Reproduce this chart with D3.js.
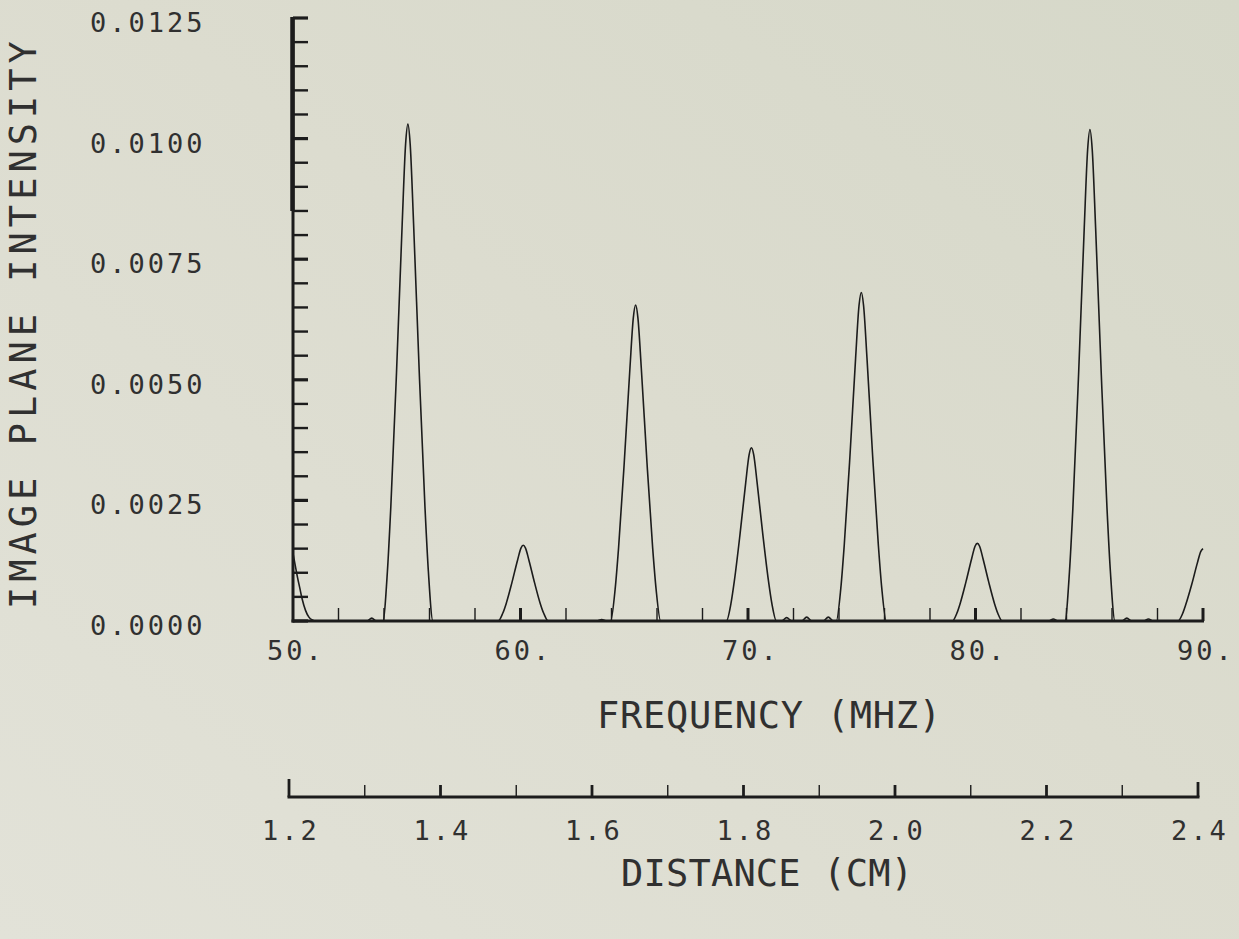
<!DOCTYPE html>
<html>
<head>
<meta charset="utf-8">
<script src="https://cdn.jsdelivr.net/npm/d3@7"></script>
<style>
  html, body { margin: 0; padding: 0; background: #dcdccf; }
  svg { display: block; }
  text { font-family: 'DejaVu Sans Mono', 'Liberation Mono', monospace; fill: #303030; }
</style>
</head>
<body>
<div id="chart"></div>
<script>
// intensity axis
const yTickValues = [0, 0.0025, 0.005, 0.0075, 0.01, 0.0125];
const yTickLabels = ['0.0000', '0.0025', '0.0050', '0.0075', '0.0100', '0.0125'];
// frequency axis
const freqTicks = [50, 60, 70, 80, 90];
const freqTickLabels = ['50.', '60.', '70.', '80.', '90.'];
// distance axis
const distTicks = [1.2, 1.4, 1.6, 1.8, 2.0, 2.2, 2.4];
const distTickLabels = ['1.2', '1.4', '1.6', '1.8', '2.0', '2.2', '2.4'];

// traced curve: [frequency MHz, image plane intensity]
const trace = [
  [50.00, 0.00140], [50.10, 0.00115], [50.20, 0.00090], [50.30, 0.00068], [50.40, 0.00046],
  [50.55, 0.00022], [50.70, 0.00008], [50.85, 0.00002], [51.00, 0], [52.00, 0],
  [53.25, 0], [53.46, 0.00006], [53.67, 0],
  // peak near 55
  [53.95, 0], [54.15, 0.00103], [54.30, 0.00237], [54.55, 0.00515], [54.80, 0.00824],
  [54.95, 0.00989], [55.05, 0.01030], [55.15, 0.00989], [55.30, 0.00824], [55.55, 0.00515],
  [55.80, 0.00237], [55.95, 0.00103], [56.15, 0],
  // peak near 60
  [59.02, 0], [59.22, 0.00016], [59.37, 0.00036], [59.62, 0.00079], [59.87, 0.00126],
  [60.02, 0.00151], [60.12, 0.00157], [60.22, 0.00151], [60.37, 0.00126], [60.62, 0.00079],
  [60.87, 0.00036], [61.02, 0.00016], [61.22, 0],
  [63.35, 0], [63.57, 0.00003], [63.79, 0],
  // peak near 65
  [63.96, 0], [64.16, 0.00066], [64.31, 0.00151], [64.56, 0.00328], [64.81, 0.00524],
  [64.96, 0.00629], [65.06, 0.00655], [65.16, 0.00629], [65.31, 0.00524], [65.56, 0.00328],
  [65.81, 0.00151], [65.96, 0.00066], [66.16, 0],
  // peak near 70
  [69.05, 0], [69.25, 0.00036], [69.40, 0.00083], [69.65, 0.00180], [69.90, 0.00287],
  [70.05, 0.00345], [70.15, 0.00359], [70.25, 0.00345], [70.40, 0.00287], [70.65, 0.00180],
  [70.90, 0.00083], [71.05, 0.00036], [71.25, 0],
  [71.48, 0], [71.70, 0.00007], [71.92, 0], [72.36, 0], [72.58, 0.00008], [72.80, 0],
  [73.31, 0], [73.53, 0.00008], [73.75, 0],
  // peak near 75
  [73.88, 0], [74.08, 0.00068], [74.23, 0.00157], [74.48, 0.00341], [74.73, 0.00545],
  [74.88, 0.00654], [74.98, 0.00681], [75.08, 0.00654], [75.23, 0.00545], [75.48, 0.00341],
  [75.73, 0.00157], [75.88, 0.00068], [76.08, 0],
  // peak near 80
  [78.98, 0], [79.18, 0.00016], [79.33, 0.00037], [79.58, 0.00081], [79.83, 0.00129],
  [79.98, 0.00155], [80.08, 0.00161], [80.18, 0.00155], [80.33, 0.00129], [80.58, 0.00081],
  [80.83, 0.00037], [80.98, 0.00016], [81.18, 0],
  [83.22, 0], [83.42, 0.00004], [83.62, 0],
  // peak near 85
  [83.93, 0], [84.13, 0.00102], [84.28, 0.00234], [84.53, 0.00510], [84.78, 0.00815],
  [84.93, 0.00978], [85.03, 0.01019], [85.13, 0.00978], [85.28, 0.00815], [85.53, 0.00510],
  [85.78, 0.00234], [85.93, 0.00102], [86.13, 0],
  [86.43, 0], [86.65, 0.00006], [86.87, 0], [87.40, 0], [87.60, 0.00004], [87.80, 0],
  // rising edge at 90
  [88.90, 0], [89.10, 0.00015], [89.25, 0.00035], [89.50, 0.00075], [89.75, 0.00120],
  [89.90, 0.00144], [90.00, 0.00150],
];

const width = 1239;
const height = 939;
const ink = '#1c1c1c';

const svg = d3.select('#chart').append('svg')
  .attr('width', width).attr('height', height);

// paper background, slightly lighter toward the lower left
const defs = svg.append('defs');
const grad = defs.append('linearGradient').attr('id', 'paper')
  .attr('x1', '0%').attr('y1', '100%').attr('x2', '100%').attr('y2', '0%');
grad.append('stop').attr('offset', '0%').attr('stop-color', '#e2e2d8');
grad.append('stop').attr('offset', '55%').attr('stop-color', '#dcdccf');
grad.append('stop').attr('offset', '100%').attr('stop-color', '#d6d8c9');
svg.append('rect').attr('width', width).attr('height', height).attr('fill', 'url(#paper)');

const x = d3.scaleLinear().domain([50, 90]).range([293, 1203]);
const y = d3.scaleLinear().domain([0, 0.0125]).range([621, 18]);
const xd = d3.scaleLinear().domain([1.2, 2.4]).range([289, 1198]);

// y axis: ticks every 0.0005, heavier at labelled values
const yMinor = d3.range(0, 0.0125 + 1e-9, 0.0005);
svg.append('g').selectAll('line').data(yMinor).join('line')
  .attr('x1', x(50)).attr('x2', x(50) + 15)
  .attr('y1', (d) => y(d)).attr('y2', (d) => y(d))
  .attr('stroke', ink)
  .attr('stroke-width', (d) => (yTickValues.some((v) => Math.abs(v - d) < 1e-9) ? 3.2 : 2.4));
svg.append('line')
  .attr('x1', x(50)).attr('x2', x(50)).attr('y1', y(0.0125) - 1).attr('y2', y(0) + 1.5)
  .attr('stroke', ink).attr('stroke-width', 3);
// heavier top stretch of the axis
svg.append('line')
  .attr('x1', x(50) - 0.5).attr('x2', x(50) - 0.5).attr('y1', y(0.0125) - 1).attr('y2', y(0.0085))
  .attr('stroke', ink).attr('stroke-width', 4.5);

svg.append('g').selectAll('text').data(yTickValues).join('text')
  .attr('x', 90).attr('y', (d) => y(d) + 14)
  .attr('font-size', 27).attr('letter-spacing', 3)
  .text((d, i) => yTickLabels[i]);

svg.append('text')
  .attr('transform', `translate(36,609) rotate(-90)`)
  .attr('font-size', 37).attr('letter-spacing', 5)
  .text('IMAGE PLANE INTENSITY');

// frequency axis: ticks every 2 MHz
const xMinor = d3.range(50, 90 + 1e-9, 2);
svg.append('g').selectAll('line').data(xMinor.filter((d) => d > 50)).join('line')
  .attr('x1', (d) => x(d)).attr('x2', (d) => x(d))
  .attr('y1', y(0)).attr('y2', y(0) - 13)
  .attr('stroke', ink)
  .attr('stroke-width', (d) => (freqTicks.includes(d) ? 3 : 1.4));
svg.append('line')
  .attr('x1', x(50) - 1.5).attr('x2', x(90) + 1).attr('y1', y(0)).attr('y2', y(0))
  .attr('stroke', ink).attr('stroke-width', 3.2);

svg.append('g').selectAll('text').data(freqTicks).join('text')
  .attr('x', (d) => x(d) + 3).attr('y', 660)
  .attr('text-anchor', 'middle')
  .attr('font-size', 27).attr('letter-spacing', 3)
  .text((d, i) => freqTickLabels[i]);

svg.append('text')
  .attr('x', 597).attr('y', 728)
  .attr('font-size', 37).attr('letter-spacing', 0.7)
  .text('FREQUENCY (MHZ)');

// traced intensity curve
const line = d3.line()
  .x((d) => x(d[0]))
  .y((d) => y(d[1]))
  .curve(d3.curveMonotoneX);
svg.append('path')
  .datum(trace)
  .attr('d', line)
  .attr('fill', 'none')
  .attr('stroke', ink)
  .attr('stroke-width', 1.6)
  .attr('stroke-linejoin', 'round');

// distance axis: ticks every 0.1 cm
const distMinor = d3.range(0, 13).map((i) => 1.2 + i * 0.1);
const distLine = 797;
svg.append('g').selectAll('line').data(distMinor).join('line')
  .attr('x1', (d) => xd(d)).attr('x2', (d) => xd(d))
  .attr('y1', distLine)
  .attr('y2', (d, i) => distLine - (i === 0 ? 18 : i === 12 ? 15 : 12))
  .attr('stroke', ink)
  .attr('stroke-width', (d, i) => (i % 2 === 0 ? 2.8 : 1.4));
svg.append('line')
  .attr('x1', xd(1.2) - 1.5).attr('x2', xd(2.4) + 1.5).attr('y1', distLine).attr('y2', distLine)
  .attr('stroke', ink).attr('stroke-width', 3.2);

svg.append('g').selectAll('text').data(distTicks).join('text')
  .attr('x', (d) => xd(d) + 2).attr('y', 840)
  .attr('text-anchor', 'middle')
  .attr('font-size', 27).attr('letter-spacing', 3)
  .text((d, i) => distTickLabels[i]);

svg.append('text')
  .attr('x', 621).attr('y', 886)
  .attr('font-size', 37).attr('letter-spacing', 0.2)
  .text('DISTANCE (CM)');
</script>
</body>
</html>
